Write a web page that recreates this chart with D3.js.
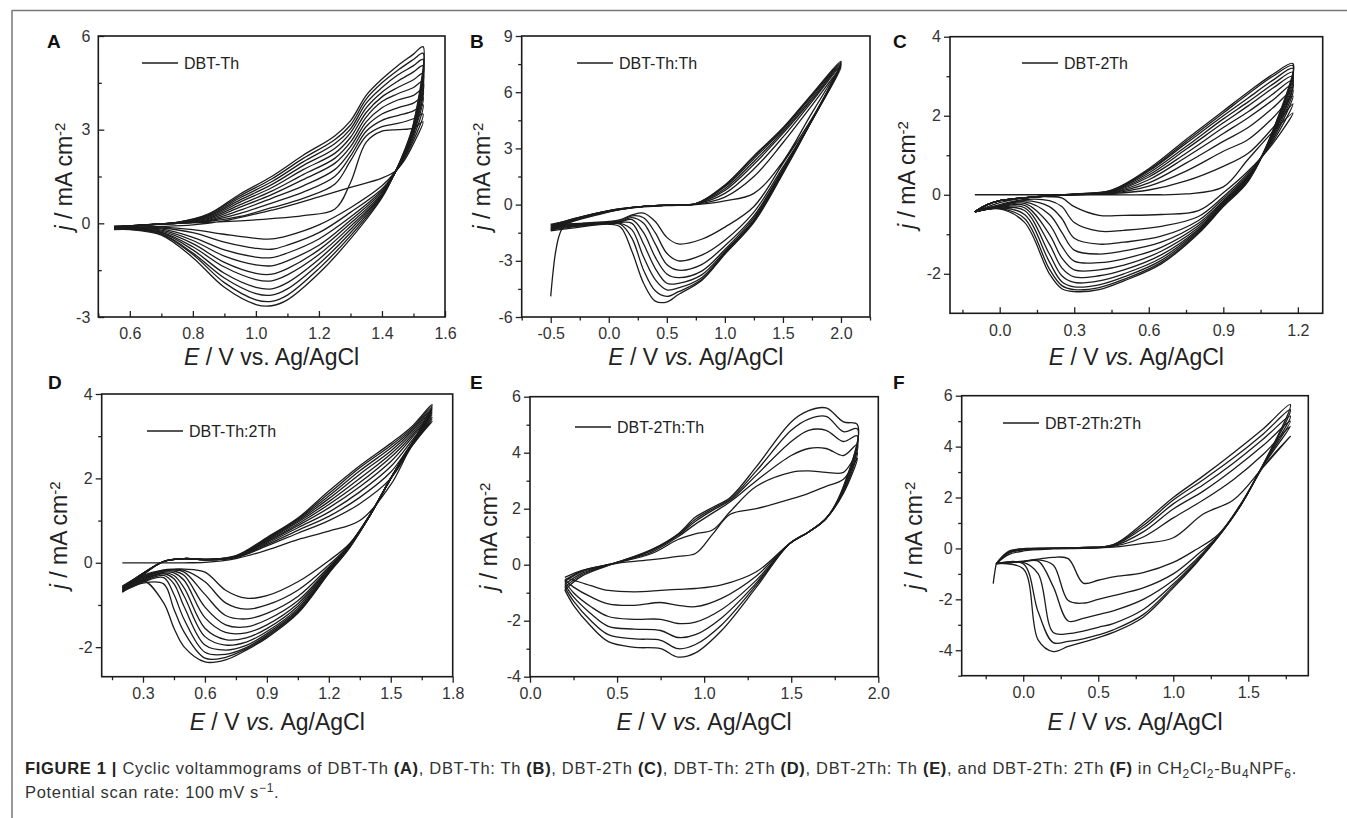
<!DOCTYPE html>
<html>
<head>
<meta charset="utf-8">
<script src="https://cdn.jsdelivr.net/npm/d3@7"></script>
<style>
  body { margin: 0; background: #fff; }
  svg { display: block; font-family: "Liberation Sans", Arial, sans-serif; }
</style>
</head>
<body>
<svg id="fig" width="1347" height="818"></svg>
<script>
// ---------- data (E in V, j in mA cm-2) ----------

// A: DBT-Th
const fwdE_A = [0.55, 0.65, 0.75, 0.85, 0.95, 1.05, 1.15, 1.25, 1.30, 1.35, 1.40, 1.45, 1.50, 1.53];
const fwdJ_A = [
  [-0.10, -0.05, 0.00, 0.03, 0.08, 0.15, 0.25, 0.45, 1.30, 2.60, 2.95, 3.00, 3.05, 3.25],
  [-0.10, -0.05, 0.00, 0.06, 0.22, 0.50, 0.80, 1.25, 2.00, 2.80, 3.10, 3.20, 3.35, 3.50],
  [-0.10, -0.05, 0.00, 0.08, 0.32, 0.65, 1.00, 1.50, 2.15, 2.95, 3.30, 3.45, 3.60, 3.80],
  [-0.12, -0.05, 0.00, 0.10, 0.42, 0.80, 1.20, 1.72, 2.30, 3.10, 3.50, 3.70, 3.85, 4.05],
  [-0.12, -0.05, 0.00, 0.13, 0.52, 0.92, 1.40, 1.92, 2.45, 3.25, 3.70, 3.95, 4.10, 4.30],
  [-0.12, -0.05, 0.02, 0.16, 0.60, 1.03, 1.56, 2.08, 2.60, 3.40, 3.90, 4.15, 4.35, 4.55],
  [-0.15, -0.05, 0.02, 0.19, 0.68, 1.14, 1.72, 2.24, 2.75, 3.55, 4.05, 4.35, 4.60, 4.80],
  [-0.15, -0.05, 0.02, 0.22, 0.75, 1.24, 1.85, 2.40, 2.90, 3.70, 4.20, 4.55, 4.85, 5.05],
  [-0.15, -0.05, 0.03, 0.25, 0.82, 1.33, 1.97, 2.55, 3.02, 3.85, 4.35, 4.75, 5.05, 5.25],
  [-0.15, -0.05, 0.03, 0.28, 0.88, 1.42, 2.08, 2.68, 3.15, 3.98, 4.50, 4.90, 5.25, 5.45],
  [-0.15, -0.05, 0.03, 0.30, 0.94, 1.50, 2.18, 2.80, 3.28, 4.10, 4.62, 5.05, 5.42, 5.66]
];
const revE_A = [1.53, 1.50, 1.47, 1.44, 1.40, 1.30, 1.20, 1.10, 1.05, 1.00, 0.90, 0.80, 0.70, 0.60, 0.55];
const revJ_A = [
  [3.25, 2.55, 2.00, 1.65, 1.45, 1.15, 0.85, 0.55, 0.42, 0.30, 0.08, -0.05, -0.10, -0.12, -0.12],
  [3.50, 2.65, 2.05, 1.62, 1.20, 0.50, -0.05, -0.40, -0.50, -0.48, -0.35, -0.20, -0.12, -0.12, -0.12],
  [3.80, 2.75, 2.10, 1.60, 1.10, 0.35, -0.30, -0.70, -0.83, -0.80, -0.60, -0.30, -0.15, -0.12, -0.12],
  [4.05, 2.85, 2.12, 1.60, 1.05, 0.20, -0.50, -0.95, -1.10, -1.08, -0.85, -0.45, -0.18, -0.13, -0.13],
  [4.30, 2.90, 2.15, 1.60, 1.00, 0.10, -0.70, -1.20, -1.36, -1.33, -1.05, -0.55, -0.22, -0.14, -0.14],
  [4.55, 2.95, 2.18, 1.60, 0.95, 0.00, -0.85, -1.45, -1.63, -1.60, -1.25, -0.65, -0.25, -0.15, -0.15],
  [4.80, 3.00, 2.20, 1.60, 0.92, -0.10, -1.00, -1.65, -1.84, -1.80, -1.40, -0.75, -0.28, -0.16, -0.16],
  [5.05, 3.05, 2.22, 1.60, 0.90, -0.20, -1.15, -1.90, -2.10, -2.05, -1.60, -0.85, -0.30, -0.17, -0.17],
  [5.25, 3.10, 2.25, 1.60, 0.88, -0.30, -1.30, -2.10, -2.30, -2.25, -1.75, -0.95, -0.33, -0.18, -0.18],
  [5.45, 3.15, 2.27, 1.60, 0.85, -0.40, -1.45, -2.30, -2.50, -2.45, -1.90, -1.00, -0.35, -0.19, -0.19],
  [5.66, 3.20, 2.30, 1.60, 0.82, -0.50, -1.60, -2.45, -2.64, -2.60, -2.05, -1.10, -0.38, -0.20, -0.20]
];

// B: DBT-Th:Th
const fwdE_B = [-0.5, -0.3, -0.1, 0.1, 0.3, 0.5, 0.75, 1.0, 1.25, 1.5, 1.75, 2.0];
const fwdJ_B = [
  [-1.05, -0.80, -0.45, -0.25, -0.12, -0.05, 0.00, 0.20, 0.60, 2.30, 4.90, 7.40],
  [-1.10, -0.75, -0.45, -0.22, -0.10, -0.03, 0.02, 0.40, 1.50, 3.30, 5.30, 7.30],
  [-1.15, -0.75, -0.45, -0.22, -0.10, -0.03, 0.03, 0.60, 1.90, 3.60, 5.50, 7.40],
  [-1.20, -0.78, -0.47, -0.23, -0.10, -0.03, 0.04, 0.75, 2.15, 3.80, 5.60, 7.45],
  [-1.25, -0.80, -0.48, -0.24, -0.10, -0.03, 0.05, 0.85, 2.30, 3.90, 5.70, 7.50],
  [-1.30, -0.82, -0.50, -0.25, -0.10, -0.03, 0.05, 0.95, 2.45, 4.00, 5.80, 7.55],
  [-1.35, -0.85, -0.52, -0.26, -0.10, -0.03, 0.05, 1.00, 2.55, 4.05, 5.85, 7.60],
  [-1.40, -0.88, -0.55, -0.27, -0.10, -0.03, 0.05, 1.05, 2.60, 4.10, 5.90, 7.65]
];
const revE_B = [2.0, 1.75, 1.5, 1.25, 1.0, 0.8, 0.6, 0.5, 0.4, 0.3, 0.2, 0.1, 0.0, -0.25, -0.5];
const revJ_B = [
  [7.40, 4.60, 2.20, -0.10, -1.20, -1.85, -2.10, -1.75, -0.90, -0.45, -0.55, -0.80, -0.90, -1.00, -1.05],
  [7.30, 4.50, 2.00, -0.40, -1.90, -2.70, -3.00, -2.60, -1.50, -0.70, -0.60, -0.85, -0.92, -1.02, -1.10],
  [7.40, 4.50, 1.90, -0.60, -2.20, -3.20, -3.50, -3.20, -2.10, -1.00, -0.70, -0.90, -0.95, -1.05, -1.15],
  [7.45, 4.50, 1.85, -0.70, -2.40, -3.55, -3.90, -3.70, -2.80, -1.50, -0.80, -0.92, -0.97, -1.08, -1.20],
  [7.50, 4.50, 1.80, -0.80, -2.50, -3.75, -4.20, -4.20, -3.40, -2.10, -1.00, -0.95, -1.00, -1.10, -1.25],
  [7.55, 4.50, 1.75, -0.85, -2.55, -3.90, -4.45, -4.55, -4.00, -2.80, -1.35, -1.00, -1.00, -1.12, -1.30],
  [7.60, 4.50, 1.70, -0.90, -2.60, -4.00, -4.65, -4.90, -4.60, -3.50, -1.80, -1.05, -1.02, -1.15, -1.35],
  [7.65, 4.50, 1.65, -0.95, -2.65, -4.05, -4.80, -5.20, -5.15, -4.20, -2.50, -1.20, -1.05, -1.20, -1.40]
];
const firstScanB = [[-0.5, -4.9], [-0.48, -3.6], [-0.46, -2.6], [-0.43, -1.7], [-0.40, -1.25], [-0.35, -0.95], [-0.30, -0.80]];

// C: DBT-2Th
const fwdE_C = [-0.1, -0.05, 0.0, 0.15, 0.3, 0.45, 0.6, 0.75, 0.9, 1.0, 1.1, 1.18];
const fwdJ_C = [
  [0.00, 0.00, 0.00, 0.00, 0.00, 0.00, 0.00, 0.02, 0.20, 0.90, 1.60, 2.07],
  [-0.43, -0.25, -0.15, -0.05, 0.00, 0.03, 0.12, 0.35, 0.72, 1.05, 1.70, 2.30],
  [-0.43, -0.25, -0.15, -0.05, 0.00, 0.04, 0.22, 0.60, 1.10, 1.40, 1.95, 2.50],
  [-0.43, -0.25, -0.15, -0.05, 0.00, 0.05, 0.30, 0.80, 1.35, 1.70, 2.20, 2.65],
  [-0.43, -0.25, -0.15, -0.05, 0.01, 0.06, 0.38, 0.95, 1.55, 1.95, 2.40, 2.80],
  [-0.43, -0.25, -0.15, -0.05, 0.01, 0.07, 0.45, 1.05, 1.70, 2.10, 2.55, 2.90],
  [-0.43, -0.25, -0.15, -0.05, 0.01, 0.08, 0.50, 1.15, 1.82, 2.25, 2.70, 3.00],
  [-0.43, -0.25, -0.15, -0.05, 0.01, 0.09, 0.55, 1.22, 1.92, 2.35, 2.80, 3.10],
  [-0.43, -0.25, -0.15, -0.05, 0.01, 0.10, 0.60, 1.30, 2.00, 2.45, 2.90, 3.20],
  [-0.43, -0.25, -0.15, -0.05, 0.02, 0.11, 0.63, 1.35, 2.07, 2.55, 3.00, 3.27],
  [-0.43, -0.25, -0.15, -0.05, 0.02, 0.12, 0.66, 1.40, 2.12, 2.60, 3.05, 3.32]
];
const revE_C = [1.18, 1.1, 1.0, 0.9, 0.8, 0.65, 0.5, 0.4, 0.3, 0.25, 0.2, 0.1, 0.0, -0.1];
const revJ_C = [
  [2.07, 1.30, 0.60, 0.05, -0.40, -0.50, -0.52, -0.52, -0.30, -0.08, -0.05, -0.08, -0.20, -0.43],
  [2.30, 1.35, 0.55, -0.05, -0.55, -0.80, -0.90, -0.92, -0.70, -0.30, -0.15, -0.12, -0.25, -0.43],
  [2.50, 1.40, 0.50, -0.10, -0.65, -1.05, -1.20, -1.25, -1.10, -0.60, -0.30, -0.15, -0.27, -0.43],
  [2.65, 1.45, 0.48, -0.15, -0.72, -1.20, -1.42, -1.50, -1.40, -0.95, -0.50, -0.18, -0.28, -0.43],
  [2.80, 1.50, 0.46, -0.18, -0.78, -1.33, -1.62, -1.72, -1.68, -1.30, -0.75, -0.22, -0.30, -0.43],
  [2.90, 1.52, 0.44, -0.20, -0.83, -1.43, -1.78, -1.90, -1.90, -1.60, -1.00, -0.27, -0.31, -0.43],
  [3.00, 1.55, 0.42, -0.22, -0.87, -1.52, -1.90, -2.05, -2.08, -1.85, -1.25, -0.33, -0.32, -0.43],
  [3.10, 1.58, 0.40, -0.24, -0.90, -1.60, -2.00, -2.18, -2.22, -2.05, -1.50, -0.40, -0.33, -0.43],
  [3.20, 1.60, 0.38, -0.26, -0.93, -1.66, -2.08, -2.28, -2.33, -2.20, -1.70, -0.50, -0.34, -0.43],
  [3.27, 1.62, 0.36, -0.28, -0.96, -1.71, -2.14, -2.35, -2.40, -2.30, -1.88, -0.60, -0.35, -0.43],
  [3.32, 1.64, 0.34, -0.30, -0.98, -1.75, -2.18, -2.40, -2.45, -2.38, -2.00, -0.70, -0.36, -0.43]
];

// D: DBT-Th:2Th
const fwdE_D = [0.2, 0.3, 0.4, 0.5, 0.6, 0.75, 0.9, 1.05, 1.2, 1.35, 1.5, 1.6, 1.7];
const fwdJ_D = [
  [0.00, 0.00, 0.00, 0.00, 0.01, 0.10, 0.30, 0.55, 0.75, 1.00, 1.85, 2.75, 3.35],
  [-0.57, -0.25, 0.03, 0.10, 0.07, 0.12, 0.40, 0.70, 1.00, 1.40, 2.00, 2.75, 3.40],
  [-0.59, -0.25, 0.03, 0.10, 0.07, 0.13, 0.43, 0.77, 1.10, 1.55, 2.15, 2.82, 3.45],
  [-0.60, -0.25, 0.03, 0.10, 0.07, 0.13, 0.46, 0.83, 1.20, 1.68, 2.28, 2.88, 3.50],
  [-0.62, -0.26, 0.03, 0.10, 0.07, 0.14, 0.49, 0.88, 1.30, 1.80, 2.40, 2.95, 3.55],
  [-0.63, -0.26, 0.03, 0.10, 0.07, 0.14, 0.51, 0.92, 1.38, 1.90, 2.50, 3.00, 3.58],
  [-0.65, -0.27, 0.03, 0.10, 0.08, 0.15, 0.53, 0.96, 1.45, 2.00, 2.58, 3.05, 3.62],
  [-0.66, -0.27, 0.03, 0.10, 0.08, 0.15, 0.55, 0.99, 1.52, 2.10, 2.65, 3.10, 3.65],
  [-0.68, -0.28, 0.03, 0.10, 0.08, 0.16, 0.57, 1.02, 1.58, 2.18, 2.72, 3.14, 3.68],
  [-0.69, -0.28, 0.03, 0.10, 0.08, 0.16, 0.58, 1.04, 1.64, 2.25, 2.78, 3.18, 3.72],
  [-0.70, -0.29, 0.03, 0.10, 0.08, 0.17, 0.60, 1.06, 1.70, 2.30, 2.83, 3.22, 3.75]
];
const revE_D = [1.7, 1.6, 1.5, 1.4, 1.3, 1.2, 1.05, 0.9, 0.8, 0.7, 0.6, 0.5, 0.45, 0.4, 0.3, 0.2];
const revJ_D = [
  [3.35, 2.80, 2.00, 1.15, 0.45, 0.05, -0.45, -0.78, -0.84, -0.65, -0.22, -0.15, -0.15, -0.17, -0.30, -0.55],
  [3.40, 2.80, 2.00, 1.14, 0.43, -0.05, -0.65, -1.00, -1.10, -0.95, -0.45, -0.18, -0.16, -0.18, -0.32, -0.57],
  [3.45, 2.80, 2.00, 1.14, 0.42, -0.10, -0.80, -1.20, -1.33, -1.25, -0.75, -0.22, -0.17, -0.19, -0.34, -0.59],
  [3.50, 2.80, 2.00, 1.13, 0.41, -0.13, -0.90, -1.35, -1.52, -1.47, -1.05, -0.30, -0.20, -0.20, -0.36, -0.60],
  [3.55, 2.80, 2.00, 1.13, 0.40, -0.15, -0.97, -1.47, -1.66, -1.65, -1.30, -0.42, -0.24, -0.22, -0.38, -0.62],
  [3.58, 2.80, 2.00, 1.13, 0.40, -0.17, -1.03, -1.56, -1.78, -1.82, -1.55, -0.60, -0.30, -0.24, -0.40, -0.63],
  [3.62, 2.80, 2.00, 1.13, 0.39, -0.19, -1.08, -1.63, -1.88, -1.95, -1.75, -0.80, -0.38, -0.26, -0.42, -0.65],
  [3.65, 2.80, 2.00, 1.13, 0.38, -0.21, -1.12, -1.68, -1.96, -2.07, -1.95, -1.05, -0.50, -0.30, -0.44, -0.66],
  [3.68, 2.80, 2.00, 1.13, 0.37, -0.22, -1.15, -1.72, -2.01, -2.17, -2.12, -1.35, -0.75, -0.35, -0.46, -0.68],
  [3.72, 2.80, 2.00, 1.13, 0.36, -0.24, -1.18, -1.75, -2.04, -2.24, -2.26, -1.65, -1.10, -0.50, -0.48, -0.69],
  [3.75, 2.80, 2.00, 1.13, 0.35, -0.25, -1.20, -1.78, -2.07, -2.30, -2.35, -2.00, -1.55, -0.95, -0.42, -0.70]
];

// E: DBT-2Th:Th
const fwdE_E = [0.2, 0.3, 0.5, 0.7, 0.85, 0.95, 1.05, 1.15, 1.3, 1.5, 1.6, 1.7, 1.8, 1.88];
const fwdJ_E = [
  [-0.45, -0.20, 0.05, 0.18, 0.30, 0.40, 1.10, 1.80, 2.00, 2.35, 2.55, 2.80, 3.05, 3.80],
  [-0.55, -0.22, 0.07, 0.40, 0.90, 1.10, 1.25, 1.90, 2.80, 3.30, 3.35, 3.30, 3.30, 4.00],
  [-0.60, -0.25, 0.08, 0.45, 1.00, 1.45, 1.85, 2.25, 3.00, 3.90, 4.15, 4.15, 3.90, 4.30],
  [-0.70, -0.30, 0.08, 0.50, 1.05, 1.55, 1.95, 2.30, 3.20, 4.40, 4.80, 4.80, 4.40, 4.60],
  [-0.80, -0.35, 0.08, 0.52, 1.08, 1.62, 2.00, 2.35, 3.35, 4.80, 5.20, 5.30, 4.75, 4.85],
  [-0.90, -0.40, 0.08, 0.55, 1.10, 1.70, 2.05, 2.40, 3.50, 5.10, 5.50, 5.60, 5.10, 5.00]
];
const revE_E = [1.88, 1.8, 1.7, 1.6, 1.49, 1.3, 1.1, 0.95, 0.85, 0.75, 0.6, 0.45, 0.35, 0.25, 0.2];
const revJ_E = [
  [3.80, 2.55, 1.65, 1.17, 0.75, -0.25, -0.72, -0.85, -0.88, -0.92, -0.97, -0.92, -0.75, -0.55, -0.45],
  [4.00, 2.60, 1.65, 1.17, 0.75, -0.40, -1.20, -1.50, -1.45, -1.35, -1.45, -1.40, -1.15, -0.80, -0.55],
  [4.30, 2.65, 1.65, 1.17, 0.75, -0.55, -1.60, -2.05, -2.10, -1.95, -1.95, -1.85, -1.50, -1.00, -0.60],
  [4.60, 2.70, 1.65, 1.17, 0.75, -0.65, -1.90, -2.50, -2.60, -2.35, -2.30, -2.20, -1.75, -1.15, -0.70],
  [4.85, 2.75, 1.65, 1.17, 0.75, -0.72, -2.15, -2.85, -3.00, -2.70, -2.65, -2.50, -2.00, -1.30, -0.80],
  [5.00, 2.80, 1.65, 1.17, 0.75, -0.80, -2.35, -3.15, -3.30, -3.00, -2.95, -2.75, -2.20, -1.45, -0.90]
];

// F: DBT-2Th:2Th
const fwdE_F = [-0.18, -0.1, 0.0, 0.2, 0.4, 0.6, 0.8, 1.0, 1.2, 1.4, 1.6, 1.78];
const fwdJ_F = [
  [-0.60, -0.25, -0.10, -0.02, 0.00, 0.05, 0.20, 0.42, 1.35, 1.90, 3.20, 4.40],
  [-0.60, -0.20, -0.05, 0.00, 0.02, 0.08, 0.45, 1.20, 1.90, 2.70, 3.70, 4.80],
  [-0.60, -0.18, -0.04, 0.00, 0.03, 0.10, 0.65, 1.55, 2.25, 3.10, 4.05, 5.00],
  [-0.60, -0.16, -0.03, 0.00, 0.03, 0.12, 0.80, 1.75, 2.50, 3.35, 4.30, 5.20],
  [-0.60, -0.14, -0.02, 0.01, 0.04, 0.14, 0.90, 1.90, 2.70, 3.55, 4.50, 5.45],
  [-0.60, -0.12, -0.01, 0.01, 0.04, 0.15, 1.00, 2.00, 2.85, 3.75, 4.70, 5.65]
];
const revE_F = [1.78, 1.6, 1.45, 1.3, 1.15, 1.0, 0.8, 0.6, 0.5, 0.4, 0.3, 0.2, 0.1, 0.0, -0.18];
const revJ_F = [
  [4.40, 3.20, 1.75, 0.55, -0.05, -0.55, -0.95, -1.12, -1.25, -1.36, -0.40, -0.35, -0.42, -0.50, -0.60],
  [4.80, 3.25, 1.72, 0.50, -0.30, -1.00, -1.55, -1.85, -2.00, -2.15, -2.05, -0.65, -0.45, -0.52, -0.60],
  [5.00, 3.28, 1.70, 0.48, -0.45, -1.25, -2.00, -2.45, -2.60, -2.75, -2.85, -1.50, -0.50, -0.52, -0.60],
  [5.20, 3.30, 1.70, 0.47, -0.52, -1.40, -2.40, -2.95, -3.10, -3.25, -3.35, -3.30, -1.00, -0.55, -0.60],
  [5.45, 3.30, 1.70, 0.46, -0.57, -1.48, -2.60, -3.20, -3.40, -3.55, -3.65, -3.70, -2.50, -0.60, -0.60],
  [5.65, 3.30, 1.70, 0.45, -0.60, -1.55, -2.70, -3.30, -3.50, -3.68, -3.85, -4.05, -3.60, -0.80, -0.60]
];
const firstScanF = [[-0.20, -1.38], [-0.19, -0.95], [-0.18, -0.60]];

// tick values
const xTicks_A = [0.6, 0.8, 1.0, 1.2, 1.4, 1.6], yTicks_A = [-3, 0, 3, 6];
const xTicks_B = [-0.5, 0.0, 0.5, 1.0, 1.5, 2.0], yTicks_B = [-6, -3, 0, 3, 6, 9];
const xTicks_C = [0.0, 0.3, 0.6, 0.9, 1.2], yTicks_C = [-2, 0, 2, 4];
const xTicks_D = [0.3, 0.6, 0.9, 1.2, 1.5, 1.8], yTicks_D = [-2, 0, 2, 4];
const xTicks_E = [0.0, 0.5, 1.0, 1.5, 2.0], yTicks_E = [-4, -2, 0, 2, 4, 6];
const xTicks_F = [0.0, 0.5, 1.0, 1.5], yTicks_F = [-4, -2, 0, 2, 4, 6];
const xMinor_A = [0.5, 0.7, 0.9, 1.1, 1.3, 1.5], yMinor_A = [-1.5, 1.5, 4.5];
const xMinor_B = [-0.75, -0.25, 0.25, 0.75, 1.25, 1.75, 2.25], yMinor_B = [-4.5, -1.5, 1.5, 4.5, 7.5];
const xMinor_C = [-0.15, 0.15, 0.45, 0.75, 1.05], yMinor_C = [-1, 1, 3];
const xMinor_D = [0.15, 0.45, 0.75, 1.05, 1.35, 1.65], yMinor_D = [-1, 1, 3];
const xMinor_E = [0.25, 0.75, 1.25, 1.75], yMinor_E = [-3, -1, 1, 3, 5];
const xMinor_F = [-0.25, 0.25, 0.75, 1.25, 1.75], yMinor_F = [-5, -3, -1, 1, 3, 5];

// caption text
const captionLine1 = [
  ['FIGURE 1 | ', 'b'], ['Cyclic voltammograms of DBT-Th ', ''], ['(A)', 'b'],
  [', DBT-Th: Th ', ''], ['(B)', 'b'], [', DBT-2Th ', ''], ['(C)', 'b'],
  [', DBT-Th: 2Th ', ''], ['(D)', 'b'], [', DBT-2Th: Th ', ''], ['(E)', 'b'],
  [', and DBT-2Th: 2Th ', ''], ['(F)', 'b'], [' in CH', ''], ['2', 'sub'], ['Cl', ''],
  ['2', 'sub'], ['-Bu', ''], ['4', 'sub'], ['NPF', ''], ['6', 'sub'], ['.', '']
];
const captionLine2 = [['Potential scan rate: 100\u2009mV s', ''], ['\u22121', 'sup'], ['.', '']];

// ---------- chart class ----------
class CVChart {

  constructor(_config, _data) {
    this.config = {
      parentElement: _config.parentElement,
      left: _config.left, top: _config.top,
      width: _config.width, height: _config.height,
      xDomain: _config.xDomain, yDomain: _config.yDomain,
      xTicks: _config.xTicks, xMinor: _config.xMinor,
      yTicks: _config.yTicks, yMinor: _config.yMinor,
      xIn: _config.xIn || false, yIn: _config.yIn || false,
      letter: _config.letter, letterX: _config.letterX, letterY: _config.letterY,
      legend: _config.legend, legendX: _config.legendX, legendY: _config.legendY,
      yTitleX: _config.yTitleX, xTitleY: _config.xTitleY,
      italicVs: _config.italicVs !== false
    };
    this.data = _data;
    this.initVis();
  }

  initVis() {
    let vis = this;
    const c = vis.config;

    vis.svg = d3.select(c.parentElement);
    vis.chart = vis.svg.append('g')
        .attr('transform', `translate(${c.left},${c.top})`);

    vis.xScale = d3.scaleLinear().domain(c.xDomain).range([0, c.width]);
    vis.yScale = d3.scaleLinear().domain(c.yDomain).range([c.height, 0]);

    const xs = c.xIn ? -1 : 1, ys = c.yIn ? -1 : 1;
    vis.xAxis = d3.axisBottom(vis.xScale).tickValues(c.xTicks)
        .tickSize(6 * xs).tickPadding(c.xIn ? 11 : 5)
        .tickFormat(d => d.toFixed(1));
    vis.xMinorAxis = d3.axisBottom(vis.xScale).tickValues(c.xMinor)
        .tickSize(3.5 * xs).tickFormat('');
    vis.yAxis = d3.axisLeft(vis.yScale).tickValues(c.yTicks)
        .tickSize(6 * ys).tickPadding(c.yIn ? 8 : 3)
        .tickFormat(d => String(d));
    vis.yMinorAxis = d3.axisLeft(vis.yScale).tickValues(c.yMinor)
        .tickSize(3.5 * ys).tickFormat('');

    vis.line = d3.line()
        .x(d => vis.xScale(d[0]))
        .y(d => vis.yScale(d[1]))
        .curve(d3.curveCatmullRom.alpha(0.5));

    vis.updateVis();
  }

  updateVis() {
    let vis = this;
    const d = vis.data;
    // each cycle = forward sweep then reverse sweep (vertex not repeated)
    vis.loops = d.fwdJ.map((fj, i) => {
      const fwd = d.fwdE.map((e, k) => [e, fj[k]]);
      const rev = d.revE.slice(1).map((e, k) => [e, d.revJ[i][k + 1]]);
      return fwd.concat(rev);
    });
    if (d.extra) vis.loops.push(d.extra);
    vis.renderVis();
  }

  renderVis() {
    let vis = this;
    const c = vis.config;

    vis.chart.selectAll('.cv')
      .data(vis.loops)
      .join('path')
        .attr('class', 'cv')
        .attr('d', vis.line)
        .attr('fill', 'none')
        .attr('stroke', '#1c1c1c')
        .attr('stroke-width', 1.3)
        .attr('stroke-linejoin', 'round');

    const styleAxis = g => {
      g.select('.domain').remove();
      g.selectAll('line').attr('stroke', '#222').attr('stroke-width', 1.3);
      g.selectAll('text').attr('fill', '#333').style('font-size', '16px')
        .style('font-family', '"Liberation Sans", Arial, sans-serif');
    };

    vis.chart.append('g').attr('transform', `translate(0,${c.height})`).call(vis.xAxis).call(styleAxis);
    vis.chart.append('g').attr('transform', `translate(0,${c.height})`).call(vis.xMinorAxis).call(styleAxis);
    vis.chart.append('g').call(vis.yAxis).call(styleAxis);
    vis.chart.append('g').call(vis.yMinorAxis).call(styleAxis);

    vis.chart.append('rect')
        .attr('width', c.width).attr('height', c.height)
        .attr('fill', 'none').attr('stroke', '#1a1a1a').attr('stroke-width', 1.6);

    // legend
    vis.svg.append('line')
        .attr('x1', c.legendX).attr('x2', c.legendX + 36)
        .attr('y1', c.legendY).attr('y2', c.legendY)
        .attr('stroke', '#1c1c1c').attr('stroke-width', 1.4);
    vis.svg.append('text')
        .attr('x', c.legendX + 42).attr('y', c.legendY + 6)
        .style('font-size', '16px').attr('fill', '#222')
        .text(c.legend);

    // panel letter
    vis.svg.append('text')
        .attr('x', c.letterX).attr('y', c.letterY)
        .style('font-size', '19px').style('font-weight', 'bold').attr('fill', '#111')
        .text(c.letter);

    // x title
    const xt = vis.svg.append('text')
        .attr('x', c.left + c.width / 2).attr('y', c.xTitleY)
        .attr('text-anchor', 'middle')
        .style('font-size', '23px').attr('fill', '#222');
    xt.append('tspan').style('font-style', 'italic').text('E');
    xt.append('tspan').text(' / V ');
    xt.append('tspan').style('font-style', c.italicVs ? 'italic' : 'normal').text('vs.');
    xt.append('tspan').text(' Ag/AgCl');

    // y title
    const yt = vis.svg.append('text')
        .attr('transform', `translate(${c.yTitleX},${c.top + c.height / 2}) rotate(-90)`)
        .attr('text-anchor', 'middle')
        .style('font-size', '23px').attr('fill', '#222');
    yt.append('tspan').style('font-style', 'italic').text('j');
    yt.append('tspan').text(' / mA cm');
    yt.append('tspan').attr('dy', '-0.5em').style('font-size', '15px').text('-2');
  }
}

// ---------- figure ----------
const svg = d3.select('#fig');

// page frame
svg.append('line').attr('x1', 12).attr('x2', 1347).attr('y1', 10.5).attr('y2', 10.5)
   .attr('stroke', '#777').attr('stroke-width', 1.5);
svg.append('line').attr('x1', 12).attr('x2', 12).attr('y1', 10).attr('y2', 818)
   .attr('stroke', '#777').attr('stroke-width', 1.5);

new CVChart({
  parentElement: '#fig', left: 98.3, top: 36, width: 346.7, height: 281,
  xDomain: [0.5, 1.6], yDomain: [-3, 6], xTicks: xTicks_A, xMinor: xMinor_A,
  yTicks: yTicks_A, yMinor: yMinor_A, xIn: true, yIn: true,
  letter: 'A', letterX: 47, letterY: 48, legend: 'DBT-Th', legendX: 142, legendY: 63,
  yTitleX: 72, xTitleY: 365, italicVs: false
}, { fwdE: fwdE_A, fwdJ: fwdJ_A, revE: revE_A, revJ: revJ_A });

new CVChart({
  parentElement: '#fig', left: 521.7, top: 36, width: 348.3, height: 281,
  xDomain: [-0.75, 2.25], yDomain: [-6, 9], xTicks: xTicks_B, xMinor: xMinor_B,
  yTicks: yTicks_B, yMinor: yMinor_B,
  letter: 'B', letterX: 470, letterY: 48, legend: 'DBT-Th:Th', legendX: 577, legendY: 63,
  yTitleX: 490, xTitleY: 365
}, { fwdE: fwdE_B, fwdJ: fwdJ_B, revE: revE_B, revJ: revJ_B, extra: firstScanB });

new CVChart({
  parentElement: '#fig', left: 950, top: 36.7, width: 372.7, height: 276.6,
  xDomain: [-0.2, 1.3], yDomain: [-3, 4], xTicks: xTicks_C, xMinor: xMinor_C,
  yTicks: yTicks_C, yMinor: yMinor_C, xIn: true,
  letter: 'C', letterX: 893, letterY: 48, legend: 'DBT-2Th', legendX: 1022, legendY: 63,
  yTitleX: 915, xTitleY: 365
}, { fwdE: fwdE_C, fwdJ: fwdJ_C, revE: revE_C, revJ: revJ_C });

new CVChart({
  parentElement: '#fig', left: 101.7, top: 394, width: 351, height: 282.7,
  xDomain: [0.1, 1.8], yDomain: [-2.7, 4], xTicks: xTicks_D, xMinor: xMinor_D,
  yTicks: yTicks_D, yMinor: yMinor_D,
  letter: 'D', letterX: 48, letterY: 389, legend: 'DBT-Th:2Th', legendX: 147, legendY: 431,
  yTitleX: 67, xTitleY: 730
}, { fwdE: fwdE_D, fwdJ: fwdJ_D, revE: revE_D, revJ: revJ_D });

new CVChart({
  parentElement: '#fig', left: 530, top: 396.7, width: 348.3, height: 280,
  xDomain: [0, 2], yDomain: [-4, 6], xTicks: xTicks_E, xMinor: xMinor_E,
  yTicks: yTicks_E, yMinor: yMinor_E,
  letter: 'E', letterX: 470, letterY: 389, legend: 'DBT-2Th:Th', legendX: 575, legendY: 427,
  yTitleX: 497, xTitleY: 730
}, { fwdE: fwdE_E, fwdJ: fwdJ_E, revE: revE_E, revJ: revJ_E });

new CVChart({
  parentElement: '#fig', left: 961.7, top: 395.7, width: 346.6, height: 280,
  xDomain: [-0.41, 1.9], yDomain: [-5, 6], xTicks: xTicks_F, xMinor: xMinor_F,
  yTicks: yTicks_F, yMinor: yMinor_F,
  letter: 'F', letterX: 893, letterY: 389, legend: 'DBT-2Th:2Th', legendX: 1003, legendY: 423,
  yTitleX: 922, xTitleY: 730
}, { fwdE: fwdE_F, fwdJ: fwdJ_F, revE: revE_F, revJ: revJ_F, extra: firstScanF });

// caption
function captionLine(segments, y) {
  const t = svg.append('text').attr('x', 25).attr('y', y)
      .style('font-size', '16.5px').attr('fill', '#333');
  let shift = 0;
  segments.forEach(([txt, kind]) => {
    const target = kind === 'sub' ? 4 : kind === 'sup' ? -6 : 0;
    const ts = t.append('tspan').attr('dy', target - shift).text(txt);
    shift = target;
    if (kind === 'b') ts.style('font-weight', 'bold').attr('fill', '#222');
    if (kind === 'sub' || kind === 'sup') ts.style('font-size', '12px');
  });
  return t;
}
const cap1 = captionLine(captionLine1, 774);
const cap2 = captionLine(captionLine2, 798);
const natural = cap1.node().getComputedTextLength();
const nChars = captionLine1.map(s => s[0]).join('').length;
const spacing = (1272 - natural) / nChars;
cap1.style('letter-spacing', spacing + 'px');
cap2.style('letter-spacing', spacing + 'px');
</script>
</body>
</html>
